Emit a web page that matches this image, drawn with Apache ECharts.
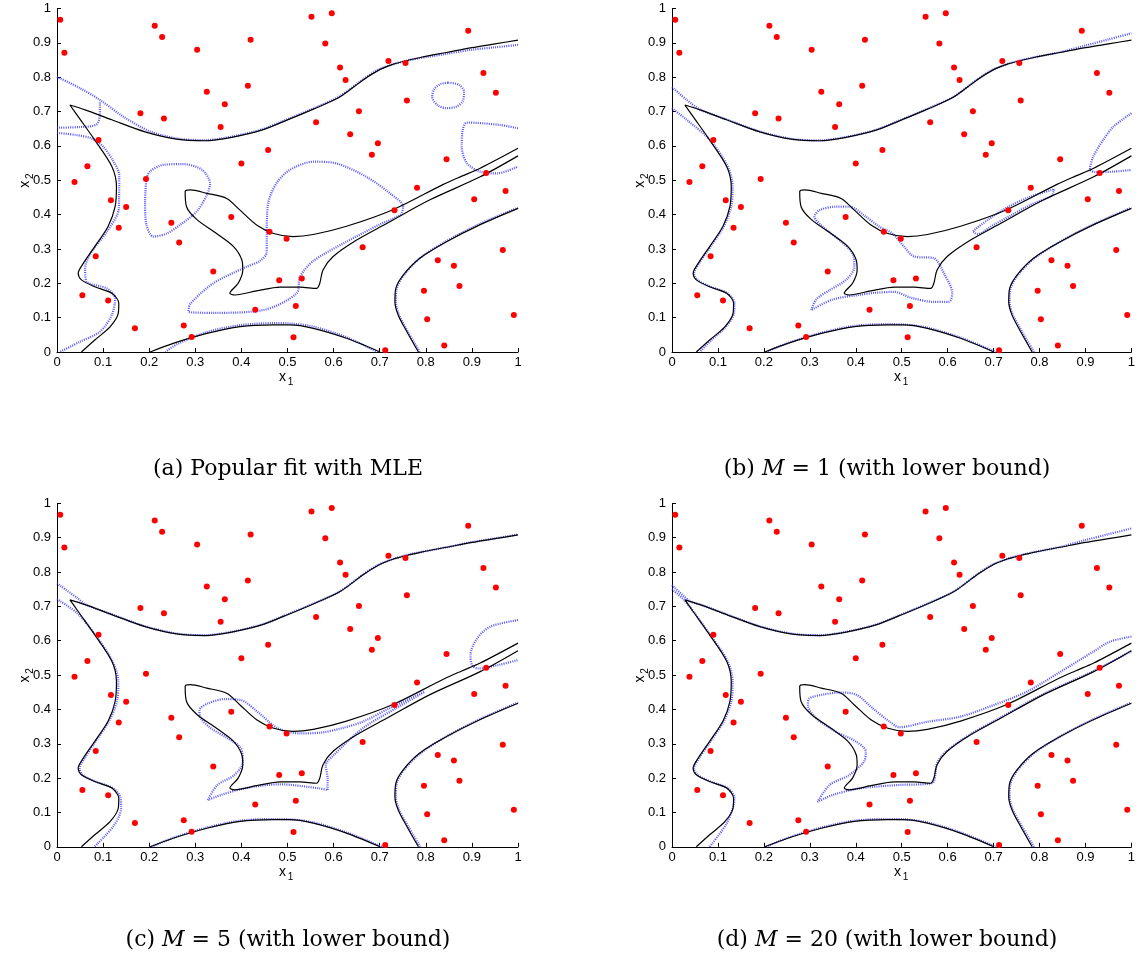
<!DOCTYPE html>
<html><head><meta charset="utf-8">
<script src="https://cdn.jsdelivr.net/npm/echarts@6/dist/echarts.min.js"></script>
<style>html,body{margin:0;padding:0;background:#fff}#c{width:1138px;height:957px}</style>
</head><body><div id="c"></div>
<script>
// ---------- data ----------
const tickLabels = ['0','0.1','0.2','0.3','0.4','0.5','0.6','0.7','0.8','0.9','1'];
const captions = [
  ['(a) Popular fit with MLE', '', ''],
  ['(b) ', 'M', ' = 1 (with lower bound)'],
  ['(c) ', 'M', ' = 5 (with lower bound)'],
  ['(d) ', 'M', ' = 20 (with lower bound)']
];
const points = [
 [0.007,0.967],[0.016,0.871],[0.212,0.950],[0.228,0.917],[0.304,0.880],[0.420,0.909],[0.325,0.758],
 [0.414,0.775],[0.364,0.721],[0.181,0.695],[0.232,0.680],[0.355,0.655],[0.090,0.617],[0.458,0.588],
 [0.400,0.549],[0.066,0.541],[0.038,0.495],[0.193,0.504],[0.552,0.976],[0.596,0.986],[0.582,0.898],
 [0.892,0.935],[0.614,0.828],[0.626,0.792],[0.719,0.847],[0.756,0.841],[0.925,0.812],[0.952,0.755],
 [0.759,0.732],[0.655,0.701],[0.562,0.669],[0.636,0.634],[0.696,0.608],[0.683,0.574],[0.845,0.561],
 [0.931,0.521],[0.117,0.442],[0.150,0.422],[0.134,0.362],[0.248,0.376],[0.265,0.319],[0.378,0.393],
 [0.084,0.279],[0.055,0.165],[0.111,0.150],[0.339,0.234],[0.169,0.069],[0.275,0.077],[0.292,0.044],
 [0.430,0.123],[0.461,0.350],[0.498,0.330],[0.482,0.209],[0.781,0.478],[0.973,0.469],[0.905,0.445],
 [0.732,0.413],[0.663,0.305],[0.967,0.297],[0.826,0.267],[0.861,0.251],[0.531,0.214],[0.873,0.192],
 [0.796,0.178],[0.518,0.134],[0.803,0.095],[0.991,0.108],[0.513,0.043],[0.840,0.019],[0.712,0.005]
];
// true contour (black), identical in all panels
const blackTop = [[1,0.908],[0.95,0.897],[0.9,0.886],[0.845,0.872],[0.79,0.858],[0.758,0.848],[0.73,0.838],
 [0.70,0.822],[0.664,0.792],[0.614,0.743],[0.556,0.707],[0.495,0.673],[0.444,0.646],[0.379,0.625],[0.321,0.615],
 [0.263,0.619],[0.191,0.641],[0.119,0.676],[0.061,0.705],[0.028,0.719],[0.046,0.685],[0.082,0.617],[0.119,0.540],
 [0.129,0.481],[0.126,0.423],[0.111,0.366],[0.082,0.307],[0.057,0.258],[0.046,0.229],[0.053,0.210],[0.082,0.190],
 [0.119,0.171],[0.134,0.142],[0.133,0.113],[0.115,0.073],[0.082,0.035],[0.053,0.0]];
const blackBottom = [[0.202,0],[0.252,0.025],[0.325,0.054],[0.397,0.074],[0.469,0.079],[0.505,0.079],[0.556,0.069],[0.628,0.040],[0.701,0.0]];
const blackRight = [[0.784,0],[0.759,0.059],[0.740,0.108],[0.733,0.146],[0.735,0.185],[0.751,0.224],[0.787,0.273],[0.845,0.321],[0.917,0.370],[1.0,0.418]];
const blackTongue = [[1,0.593],[0.918,0.535],[0.878,0.512],[0.838,0.488],[0.730,0.415],[0.628,0.366],[0.556,0.342],
 [0.512,0.336],[0.470,0.345],[0.433,0.370],[0.397,0.413],[0.368,0.447],[0.325,0.462],[0.289,0.472],[0.278,0.467],
 [0.281,0.423],[0.303,0.386],[0.346,0.345],[0.383,0.307],[0.401,0.268],[0.403,0.239],[0.393,0.200],[0.375,0.171],
 [0.386,0.166],[0.433,0.178],[0.484,0.189],[0.527,0.189],[0.563,0.185],[0.570,0.200],[0.577,0.239],[0.599,0.278],
 [0.650,0.326],[0.715,0.374],[0.809,0.443],[0.918,0.510],[1,0.571]];

// panel (a) estimated contour (blue dotted)
const aBlueTop = [[0,0.801],[0.050,0.768],[0.093,0.734],[0.144,0.685],[0.202,0.642],[0.263,0.621],[0.321,0.617],[0.379,0.627],
 [0.444,0.648],[0.495,0.675],[0.556,0.709],[0.614,0.745],[0.664,0.794],[0.70,0.824],[0.758,0.848],[0.845,0.868],[0.9,0.880],[0.95,0.887],[1,0.894]];
const aBlueSpur = [[0,0.653],[0.05,0.655],[0.085,0.662],[0.093,0.69],[0.093,0.728]];
const aBlueLeft = [[0,0.638],[0.04,0.632],[0.075,0.622],[0.1,0.598],[0.12,0.56],[0.135,0.515],[0.134,0.418],[0.108,0.350],
 [0.075,0.292],[0.061,0.244],[0.064,0.205],[0.108,0.185],[0.126,0.156],[0.119,0.108],[0.093,0.059],[0.050,0.030],[0.006,0.0]];
const aBlueLoop = [[0.194,0.506],[0.202,0.526],[0.231,0.545],[0.274,0.547],[0.315,0.530],[0.332,0.49],[0.325,0.457],[0.303,0.409],
 [0.267,0.370],[0.238,0.345],[0.209,0.336],[0.194,0.370],[0.191,0.438],[0.194,0.506]];
const aBlueBig = [[0.455,0.355],[0.458,0.433],[0.476,0.491],[0.505,0.530],[0.556,0.554],[0.606,0.549],[0.671,0.510],[0.722,0.462],
 [0.751,0.423],[0.745,0.400],[0.701,0.372],[0.628,0.321],[0.556,0.265],[0.527,0.219],[0.520,0.171],[0.447,0.122],[0.339,0.114],
 [0.285,0.118],[0.289,0.140],[0.339,0.200],[0.411,0.248],[0.440,0.265],[0.455,0.290],[0.455,0.355]];
const aBlueSmall = [[0.849,0.784],[0.872,0.778],[0.883,0.758],[0.880,0.730],[0.866,0.714],[0.845,0.710],[0.826,0.718],[0.814,0.742],
 [0.818,0.765],[0.832,0.780],[0.849,0.784]];
const aBlueFold = [[1,0.651],[0.961,0.661],[0.889,0.668],[0.880,0.646],[0.878,0.598],[0.889,0.550],[0.918,0.525],[0.954,0.520],[1,0.540]];
const aBlueBottom = [[0.235,0],[0.262,0.024],[0.325,0.058],[0.397,0.078],[0.469,0.084],[0.505,0.083],[0.556,0.074],[0.628,0.043],[0.695,0.0]];
const aBlueRight = [[0.787,0],[0.761,0.059],[0.742,0.108],[0.735,0.146],[0.737,0.185],[0.753,0.225],[0.789,0.275],[0.846,0.324],[0.917,0.373],[1.0,0.420]];

// panel (b)
const bBlueTop = [[0,0.771],[0.032,0.734],[0.061,0.706],[0.119,0.677],[0.191,0.642],[0.263,0.620],[0.321,0.616],[0.379,0.626],
 [0.444,0.647],[0.495,0.674],[0.556,0.708],[0.614,0.744],[0.664,0.793],[0.70,0.823],[0.758,0.849],[0.845,0.873],[0.9,0.892],[0.95,0.910],[1,0.928]];
const bBlueLeft = [[0,0.710],[0.032,0.676],[0.083,0.617],[0.121,0.541],[0.132,0.481],[0.129,0.423],[0.113,0.366],[0.084,0.307],
 [0.059,0.258],[0.048,0.229],[0.055,0.210],[0.084,0.190],[0.121,0.171],[0.136,0.142],[0.135,0.113],[0.117,0.073],[0.086,0.035],[0.060,0.0]];
const bBlueLoop = [[0.303,0.122],[0.314,0.153],[0.343,0.180],[0.379,0.210],[0.397,0.248],[0.393,0.287],[0.364,0.326],[0.328,0.365],
 [0.310,0.394],[0.321,0.413],[0.357,0.423],[0.386,0.423],[0.422,0.394],[0.451,0.365],[0.480,0.345],[0.505,0.307],[0.527,0.278],
 [0.570,0.273],[0.592,0.229],[0.610,0.171],[0.603,0.146],[0.570,0.146],[0.520,0.158],[0.484,0.175],[0.440,0.172],[0.407,0.166],
 [0.350,0.153],[0.303,0.122]];
const bBlueFold = [[1,0.695],[0.961,0.656],[0.939,0.618],[0.917,0.569],[0.910,0.532],[0.92,0.524],[0.96,0.525],[1,0.530]];
const bBlueThin = [[0.655,0.352],[0.69,0.387],[0.73,0.421],[0.78,0.452],[0.832,0.474],[0.826,0.455],[0.78,0.428],[0.737,0.397],[0.70,0.370],[0.664,0.343],[0.655,0.352]];
const bBlueBottom = [[0.205,0],[0.252,0.026],[0.325,0.056],[0.397,0.076],[0.469,0.081],[0.505,0.080],[0.556,0.071],[0.628,0.042],[0.705,0.0]];
const bBlueRight = [[0.788,0],[0.762,0.059],[0.742,0.108],[0.735,0.146],[0.737,0.185],[0.753,0.224],[0.789,0.273],[0.846,0.322],[0.918,0.372],[1.0,0.420]];

// panel (c)
const cBlueTop = [[0,0.767],[0.045,0.723],[0.061,0.706],[0.119,0.677],[0.191,0.642],[0.263,0.620],[0.321,0.616],[0.379,0.626],
 [0.444,0.647],[0.495,0.674],[0.556,0.708],[0.614,0.744],[0.664,0.793],[0.70,0.823],[0.758,0.849],[0.845,0.872],[0.9,0.887],[0.95,0.898],[1,0.909]];
const cBlueLeft = [[0,0.721],[0.045,0.679],[0.083,0.617],[0.12,0.541],[0.133,0.481],[0.130,0.423],[0.113,0.366],[0.084,0.307],
 [0.060,0.258],[0.049,0.229],[0.055,0.210],[0.084,0.190],[0.121,0.171],[0.138,0.142],[0.139,0.113],[0.124,0.063],[0.081,0.0]];
const cBlueLoop = [[0.327,0.136],[0.348,0.180],[0.385,0.209],[0.403,0.248],[0.399,0.287],[0.370,0.316],[0.334,0.345],[0.312,0.374],
 [0.309,0.398],[0.327,0.417],[0.363,0.430],[0.399,0.427],[0.435,0.393],[0.479,0.345],[0.530,0.330],[0.576,0.333],[0.620,0.346],
 [0.663,0.364],[0.721,0.403],[0.797,0.451],[0.735,0.403],[0.663,0.345],[0.598,0.264],[0.583,0.238],[0.587,0.199],[0.587,0.165],
 [0.569,0.170],[0.482,0.182],[0.406,0.170],[0.356,0.151],[0.327,0.136]];
const cBlueFold = [[1,0.660],[0.940,0.641],[0.911,0.606],[0.897,0.558],[0.900,0.530],[0.912,0.519],[0.96,0.530],[1,0.544]];
const cBlueBottom = [[0.205,0],[0.252,0.026],[0.325,0.056],[0.397,0.076],[0.469,0.081],[0.505,0.080],[0.556,0.071],[0.628,0.042],[0.705,0.0]];
const cBlueRight = [[0.788,0],[0.762,0.059],[0.742,0.108],[0.735,0.146],[0.737,0.185],[0.753,0.224],[0.789,0.273],[0.846,0.322],[0.918,0.372],[1.0,0.420]];

// panel (d)
const dBlueTop = [[0,0.762],[0.039,0.715],[0.061,0.706],[0.119,0.677],[0.191,0.642],[0.263,0.620],[0.321,0.616],[0.379,0.626],
 [0.444,0.647],[0.495,0.674],[0.556,0.708],[0.614,0.744],[0.664,0.793],[0.70,0.823],[0.758,0.849],[0.845,0.873],[0.9,0.893],[0.95,0.910],[1,0.927]];
const dBlueLeft = [[0,0.750],[0.025,0.720],[0.046,0.686],[0.083,0.617],[0.121,0.541],[0.132,0.481],[0.129,0.423],[0.113,0.366],
 [0.084,0.307],[0.059,0.258],[0.048,0.229],[0.055,0.210],[0.084,0.190],[0.121,0.171],[0.136,0.142],[0.134,0.121],[0.119,0.068],[0.082,0.0]];
const dBlueLoop = [[1.0,0.612],[0.953,0.597],[0.917,0.568],[0.845,0.509],[0.773,0.452],[0.701,0.413],[0.628,0.379],[0.556,0.364],
 [0.495,0.348],[0.473,0.365],[0.437,0.403],[0.401,0.443],[0.364,0.449],[0.328,0.443],[0.299,0.432],[0.296,0.413],[0.314,0.374],
 [0.357,0.335],[0.401,0.306],[0.422,0.277],[0.418,0.248],[0.386,0.209],[0.343,0.180],[0.317,0.131],[0.350,0.151],[0.408,0.170],
 [0.495,0.180],[0.556,0.183],[0.570,0.190],[0.578,0.247],[0.599,0.280],[0.650,0.328],[0.715,0.376],[0.809,0.445],[0.918,0.512],[1,0.570]];
const dBlueBottom = [[0.205,0],[0.252,0.026],[0.325,0.056],[0.397,0.076],[0.469,0.081],[0.505,0.080],[0.556,0.071],[0.628,0.042],[0.705,0.0]];
const dBlueRight = [[0.788,0],[0.762,0.059],[0.742,0.108],[0.735,0.146],[0.737,0.185],[0.753,0.224],[0.789,0.273],[0.846,0.322],[0.918,0.372],[1.0,0.420]];

// ---------- chart ----------
const blueSets = [
  [aBlueTop, aBlueSpur, aBlueLeft, aBlueLoop, aBlueBig, aBlueSmall, aBlueFold, aBlueBottom, aBlueRight],
  [bBlueTop, bBlueLeft, bBlueLoop, bBlueFold, bBlueThin, bBlueBottom, bBlueRight],
  [cBlueTop, cBlueLeft, cBlueLoop, cBlueFold, cBlueBottom, cBlueRight],
  [dBlueTop, dBlueLeft, dBlueLoop, dBlueBottom, dBlueRight]
];
const blackSet = [blackTop, blackBottom, blackRight, blackTongue];
const W = 461, H = 343.5;
const layout = [{left:57, top:8.5},{left:672, top:8.5},{left:57, top:503.3},{left:672, top:503.3}];
const FONT = 'Liberation Sans';
const CAPFONT = 'DejaVu Serif';

const grids = [], xAxes = [], yAxes = [], series = [], graphics = [];
layout.forEach((g, i) => {
  grids.push({left:g.left, top:g.top, width:W, height:H, containLabel:false});
  const ax = {
    type:'value', gridIndex:i, min:0, max:1, interval:0.1,
    axisLine:{show:true, onZero:false, lineStyle:{color:'#000', width:1}},
    axisTick:{show:true, inside:true, length:4, lineStyle:{color:'#000', width:1}},
    splitLine:{show:false},
    axisLabel:{color:'#000', fontSize:13, fontFamily:FONT, formatter:(v)=>tickLabels[Math.round(v*10)], showMinLabel:true, showMaxLabel:true, hideOverlap:false}
  };
  xAxes.push(Object.assign({}, ax, {axisLabel:Object.assign({}, ax.axisLabel, {margin:4})}));
  yAxes.push(Object.assign({}, ax, {axisLabel:Object.assign({}, ax.axisLabel, {margin:6})}));
  blueSets[i].forEach(d => series.push({
    type:'line', xAxisIndex:i, yAxisIndex:i, data:d, showSymbol:false, smooth:0.3, z:2, silent:true,
    lineStyle:{color:'#2a2aff', width:2.2, type:[1,1.2], opacity:0.8}
  }));
  blackSet.forEach(d => series.push({
    type:'line', xAxisIndex:i, yAxisIndex:i, data:d, showSymbol:false, smooth:0.3, z:3, silent:true,
    lineStyle:{color:'#000', width:1.2}
  }));
  series.push({type:'scatter', xAxisIndex:i, yAxisIndex:i, data:points, symbolSize:6, z:4, silent:true,
    itemStyle:{color:'#ff0000', opacity:1}});
  // axis names
  const cx = g.left + W/2;
  graphics.push({type:'text', x:cx-5, y:g.top+H+25, style:{text:'x', fontSize:14, fontFamily:FONT, fill:'#000', textAlign:'center', textVerticalAlign:'middle'}});
  graphics.push({type:'text', x:cx+3, y:g.top+H+30, style:{text:'1', fontSize:10, fontFamily:FONT, fill:'#000', textAlign:'center', textVerticalAlign:'middle'}});
  graphics.push({type:'group', x:g.left-32, y:g.top+H/2, rotation:Math.PI/2, children:[
    {type:'text', x:-4, y:0, style:{text:'x', fontSize:14, fontFamily:FONT, fill:'#000', textAlign:'center', textVerticalAlign:'middle'}},
    {type:'text', x:4, y:5, style:{text:'2', fontSize:10, fontFamily:FONT, fill:'#000', textAlign:'center', textVerticalAlign:'middle'}}
  ]});
  // caption
  const cap = captions[i];
  const capY = i < 2 ? 469 : 940;
  const capX = i % 2 === 0 ? 288 : 887;
  graphics.push({type:'text', x:capX, y:capY, style:{
    text: cap[1] ? '{n|' + cap[0] + '}{i|' + cap[1] + '}{n|' + cap[2] + '}' : '{n|' + cap[0] + '}',
    rich:{n:{fontFamily:CAPFONT, fontSize:22, fill:'#000', color:'#000'}, i:{fontFamily:CAPFONT, fontSize:22, fontStyle:'italic', fill:'#000', color:'#000'}},
    textAlign:'center', textVerticalAlign:'middle', align:'center', verticalAlign:'middle'
  }});
});

const chart = echarts.init(document.getElementById('c'), null, {renderer:'canvas'});
chart.setOption({
  animation:false, backgroundColor:'#fff',
  grid:grids, xAxis:xAxes, yAxis:yAxes, series:series, graphic:graphics
});
</script></body></html>
